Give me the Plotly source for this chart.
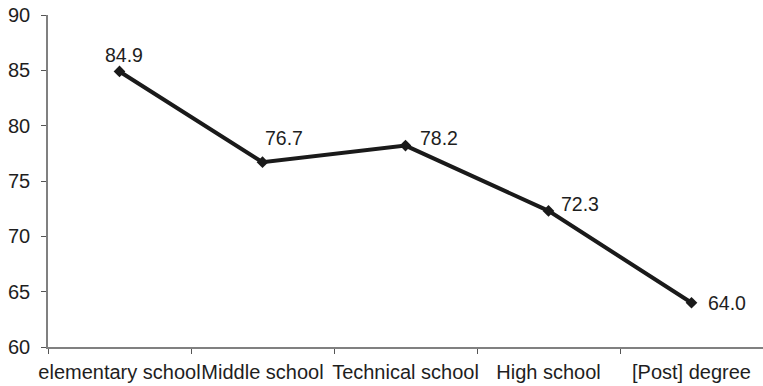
import plotly.graph_objects as go

# Education levels and their values
categories = ["elementary school", "Middle school", "Technical school", "High school", "[Post] degree"]
values = [84.9, 76.7, 78.2, 72.3, 64.0]

# Pixel offsets (dx, dy) of each value label from its point
label_offsets = [(4, 16), (21, 24), (33, 8), (31, 7), (35, 0)]

FONT = "Liberation Sans, Arial, sans-serif"
TEXT_COLOR = "#1e1e1e"

fig = go.Figure(
    go.Scatter(
        x=categories,
        y=values,
        mode="lines+markers",
        line=dict(color="#1a1a1a", width=4),
        marker=dict(symbol="diamond", size=9, color="#1a1a1a"),
        cliponaxis=False,
        hoverinfo="skip",
    )
)

for cat, val, (dx, dy) in zip(categories, values, label_offsets):
    fig.add_annotation(
        x=cat,
        y=val,
        text=f"{val:.1f}",
        showarrow=False,
        xshift=dx,
        yshift=dy,
        font=dict(family=FONT, size=19.5, color=TEXT_COLOR),
    )

axis_font = dict(family=FONT, size=20, color=TEXT_COLOR)

fig.update_layout(
    width=763,
    height=386,
    margin=dict(l=48, r=0, t=15, b=39),
    paper_bgcolor="white",
    plot_bgcolor="white",
    showlegend=False,
    xaxis=dict(
        type="category",
        showgrid=False,
        zeroline=False,
        showline=True,
        linecolor="#808080",
        linewidth=1.5,
        ticks="outside",
        tickson="boundaries",
        ticklen=5,
        tickcolor="#555555",
        tickfont=axis_font,
        tickangle=0,
        ticklabelstandoff=6,
        automargin=False,
        range=[-0.5, 4.5],
    ),
    yaxis=dict(
        range=[60, 90],
        dtick=5,
        showgrid=False,
        zeroline=False,
        showline=True,
        linecolor="#808080",
        linewidth=1.5,
        ticks="outside",
        ticklen=5,
        tickcolor="#555555",
        tickfont=axis_font,
        ticklabelstandoff=7,
        automargin=False,
    ),
)

fig.write_html("out.html")
